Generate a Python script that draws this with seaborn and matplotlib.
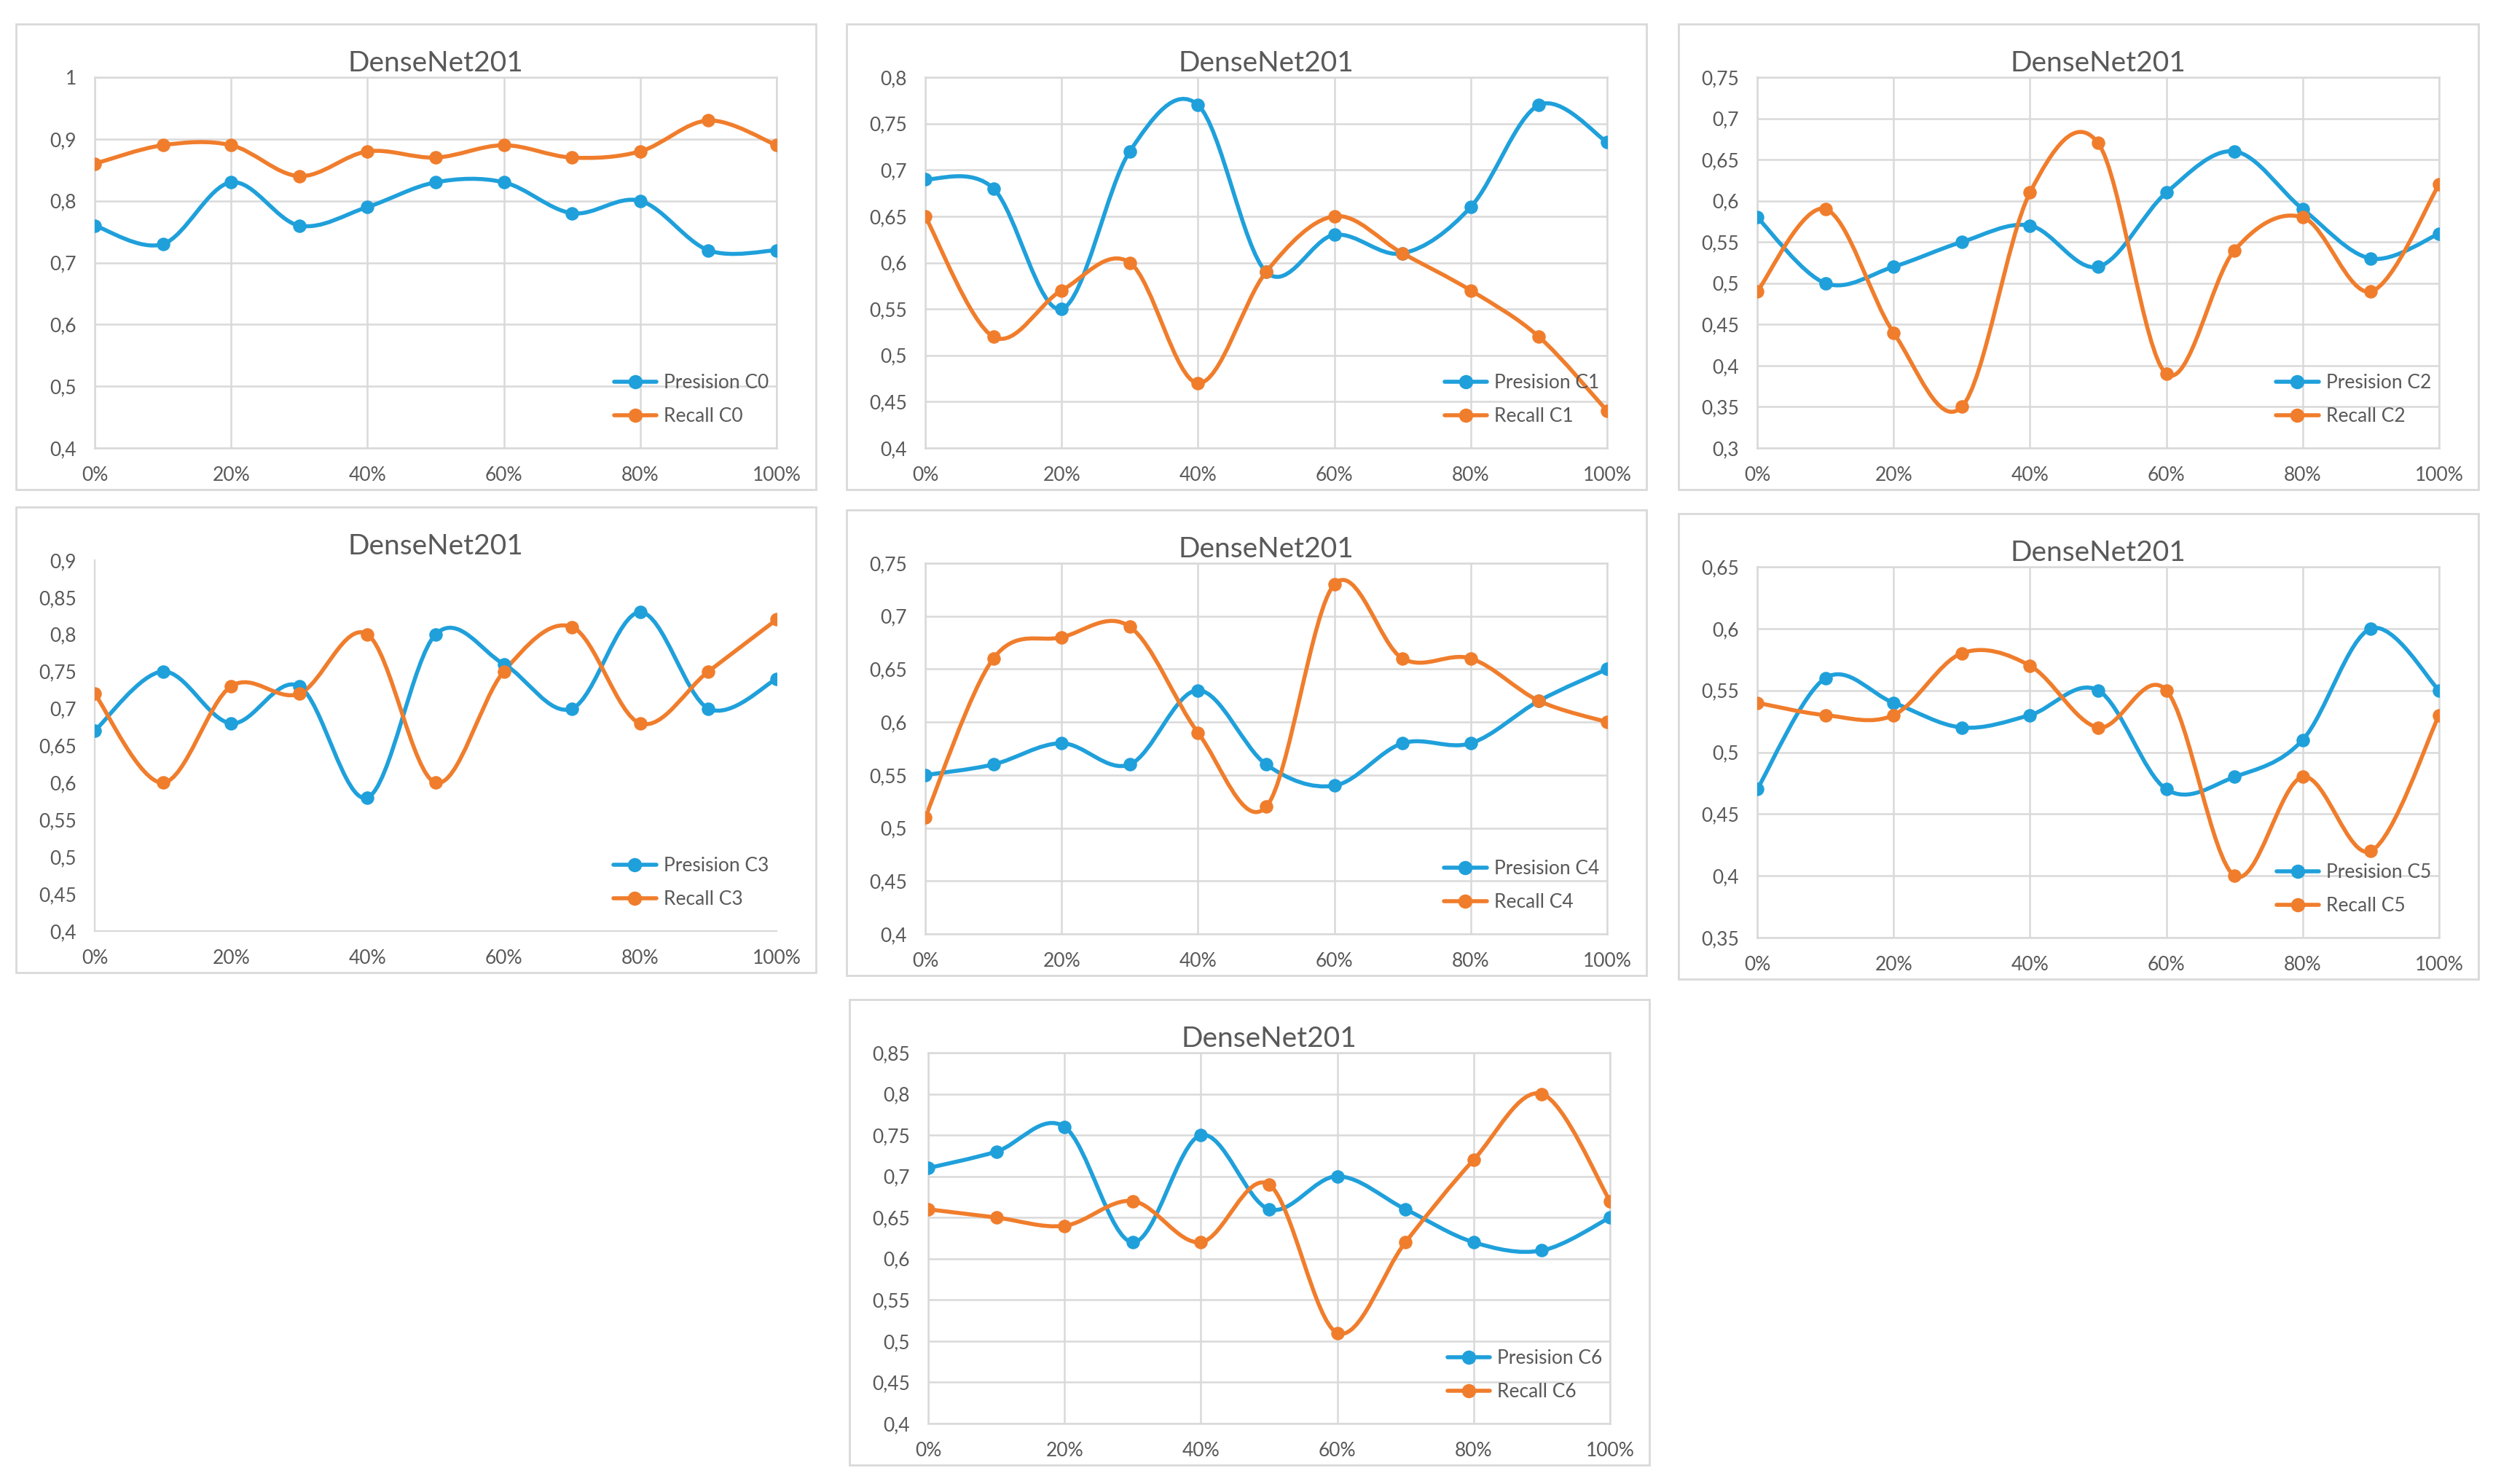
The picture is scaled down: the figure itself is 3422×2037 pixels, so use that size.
import numpy as np
import matplotlib
matplotlib.use("Agg")
import matplotlib.pyplot as plt
from matplotlib.path import Path
from matplotlib.patches import PathPatch, Rectangle
from matplotlib.lines import Line2D
import seaborn as sns

# data (x = 0%..100% in steps of 10%)
x_pct = [0, 10, 20, 30, 40, 50, 60, 70, 80, 90, 100]
x_ticks = [0, 20, 40, 60, 80, 100]
x_labels = ["0%", "20%", "40%", "60%", "80%", "100%"]

prec_c0 = [0.76, 0.73, 0.83, 0.76, 0.79, 0.83, 0.83, 0.78, 0.80, 0.72, 0.72]
rec_c0 = [0.86, 0.89, 0.89, 0.84, 0.88, 0.87, 0.89, 0.87, 0.88, 0.93, 0.89]

prec_c1 = [0.69, 0.68, 0.55, 0.72, 0.77, 0.59, 0.63, 0.61, 0.66, 0.77, 0.73]
rec_c1 = [0.65, 0.52, 0.57, 0.60, 0.47, 0.59, 0.65, 0.61, 0.57, 0.52, 0.44]

prec_c2 = [0.58, 0.50, 0.52, 0.55, 0.57, 0.52, 0.61, 0.66, 0.59, 0.53, 0.56]
rec_c2 = [0.49, 0.59, 0.44, 0.35, 0.61, 0.67, 0.39, 0.54, 0.58, 0.49, 0.62]

prec_c3 = [0.67, 0.75, 0.68, 0.73, 0.58, 0.80, 0.76, 0.70, 0.83, 0.70, 0.74]
rec_c3 = [0.72, 0.60, 0.73, 0.72, 0.80, 0.60, 0.75, 0.81, 0.68, 0.75, 0.82]

prec_c4 = [0.55, 0.56, 0.58, 0.56, 0.63, 0.56, 0.54, 0.58, 0.58, 0.62, 0.65]
rec_c4 = [0.51, 0.66, 0.68, 0.69, 0.59, 0.52, 0.73, 0.66, 0.66, 0.62, 0.60]

prec_c5 = [0.47, 0.56, 0.54, 0.52, 0.53, 0.55, 0.47, 0.48, 0.51, 0.60, 0.55]
rec_c5 = [0.54, 0.53, 0.53, 0.58, 0.57, 0.52, 0.55, 0.40, 0.48, 0.42, 0.53]

prec_c6 = [0.71, 0.73, 0.76, 0.62, 0.75, 0.66, 0.70, 0.66, 0.62, 0.61, 0.65]
rec_c6 = [0.66, 0.65, 0.64, 0.67, 0.62, 0.69, 0.51, 0.62, 0.72, 0.80, 0.67]

precisions = [prec_c0, prec_c1, prec_c2, prec_c3, prec_c4, prec_c5, prec_c6]
recalls = [rec_c0, rec_c1, rec_c2, rec_c3, rec_c4, rec_c5, rec_c6]

# y axis ranges (min, max, step)
y_axes = [(0.4, 1.0, 0.1), (0.4, 0.8, 0.05), (0.3, 0.75, 0.05), (0.4, 0.9, 0.05),
          (0.4, 0.75, 0.05), (0.35, 0.65, 0.05), (0.4, 0.85, 0.05)]
show_grid = [True, True, True, False, True, True, True]

BLUE = "#1FA0DB"
ORANGE = "#F07D2C"
TXT = "#595959"
GRID = "#D9D9D9"

sns.set_style("white")
plt.rcParams["font.family"] = ["Lato", "DejaVu Sans"]

W, H = 3422, 2037
fig = plt.figure(figsize=(W / 200, H / 200), dpi=200)

# top-left corner of each chart frame, in pixels
frames = [(22, 33), (1162, 33), (2304, 33), (22, 696), (1162, 700), (2304, 705), (1166, 1372)]


def smooth_path(xs, ys):
    # excel-like smoothed line: catmull-rom segments as cubic bezier
    pts = np.column_stack([xs, ys]).astype(float)
    n = len(pts)
    verts = [pts[0]]
    codes = [Path.MOVETO]
    for i in range(n - 1):
        p0 = pts[i - 1] if i > 0 else pts[i]
        p1 = pts[i]
        p2 = pts[i + 1]
        p3 = pts[i + 2] if i + 2 < n else pts[i + 1]
        verts += [p1 + (p2 - p0) / 6, p2 - (p3 - p1) / 6, p2]
        codes += [Path.CURVE4] * 3
    return Path(verts, codes)


for k, (fx, fy) in enumerate(frames):
    fig.patches.append(Rectangle((fx / W, 1 - (fy + 639) / H), 1098 / W, 639 / H,
                                 transform=fig.transFigure, fill=False,
                                 edgecolor=GRID, lw=1.0, zorder=0))
    ax = fig.add_axes([(fx + 108) / W, 1 - (fy + 582) / H, 936 / W, 509 / H])

    for vals, col in [(precisions[k], BLUE), (recalls[k], ORANGE)]:
        ax.add_patch(PathPatch(smooth_path(x_pct, vals), fill=False, edgecolor=col,
                               lw=2.0, capstyle="round", joinstyle="round", zorder=2))
        sns.scatterplot(x=x_pct, y=vals, ax=ax, color=col, edgecolor=col, s=38,
                        linewidth=0.5, zorder=3, legend=False)

    ymin, ymax, ystep = y_axes[k]
    yt = np.round(np.arange(ymin, ymax + ystep / 2, ystep), 2)
    ax.set_ylim(ymin, ymax)
    ax.set_yticks(yt)
    ax.set_yticklabels([f"{v:g}".replace(".", ",") for v in yt])
    ax.set_xlim(0, 100)
    ax.set_xticks(x_ticks)
    ax.set_xticklabels(x_labels)
    ax.tick_params(length=0, pad=9, labelsize=9.5, labelcolor=TXT)

    if show_grid[k]:
        ax.grid(True, color=GRID, lw=0.9)
        for s in ax.spines.values():
            s.set_color(GRID)
            s.set_linewidth(0.9)
    else:
        ax.grid(False)
        ax.spines["top"].set_visible(False)
        ax.spines["right"].set_visible(False)
        ax.spines["left"].set_color(GRID)
        ax.spines["bottom"].set_color(GRID)
    ax.set_axisbelow(True)

    ax.set_title("DenseNet201", fontsize=14, color=TXT, pad=3)

    handles = [Line2D([], [], color=BLUE, lw=2.0, marker="o", ms=6),
               Line2D([], [], color=ORANGE, lw=2.0, marker="o", ms=6)]
    leg = ax.legend(handles, [f"Presision C{k}", f"Recall C{k}"], loc="lower right",
                    bbox_to_anchor=(1.0, 0.04), borderaxespad=0, frameon=False,
                    fontsize=9.5, labelcolor=TXT, handlelength=2.2, handletextpad=0.4,
                    labelspacing=0.8)
    leg.set_zorder(5)

fig.savefig("out.png", dpi=200, facecolor="white")
